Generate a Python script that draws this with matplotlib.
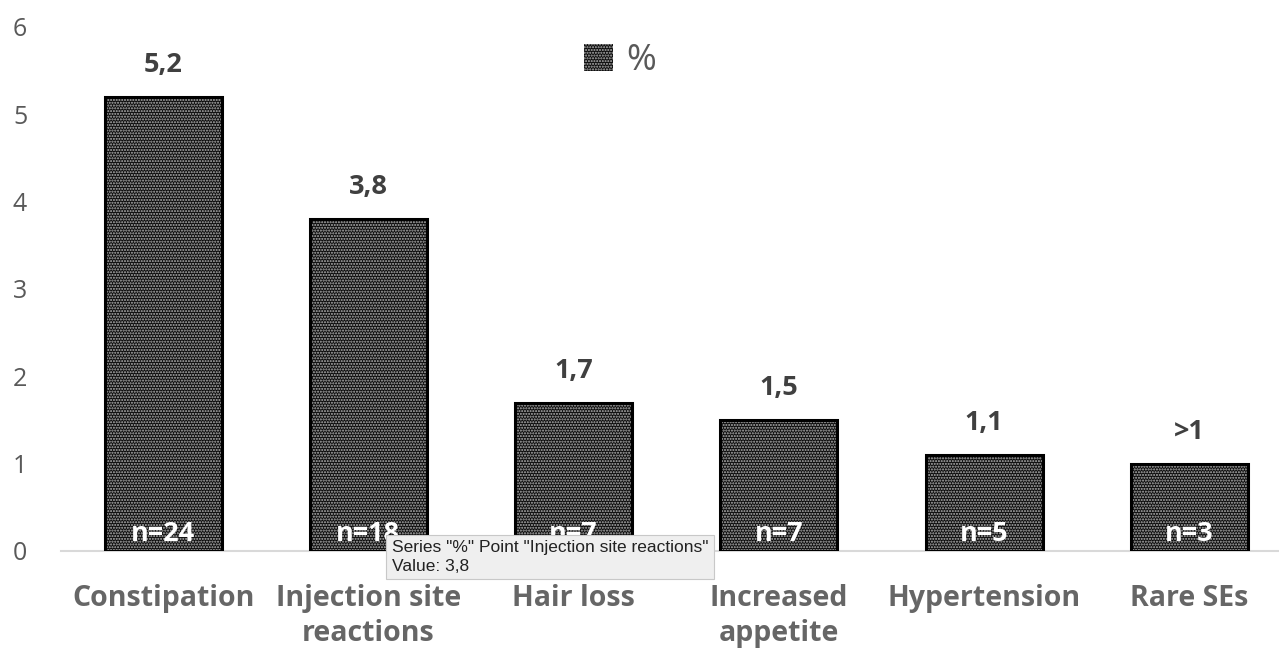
import matplotlib
matplotlib.use("Agg")
import matplotlib.pyplot as plt
from matplotlib.patches import Rectangle

categories = ["Constipation", "Injection site\nreactions", "Hair loss",
              "Increased\nappetite", "Hypertension", "Rare SEs"]
values = [5.2, 3.8, 1.7, 1.5, 1.1, 1.0]
value_labels = ["5,2", "3,8", "1,7", "1,5", "1,1", ">1"]
counts = ["n=24", "n=18", "n=7", "n=7", "n=5", "n=3"]
series_name = "%"

plt.rcParams["font.family"] = ["Open Sans", "DejaVu Sans"]
plt.rcParams["hatch.linewidth"] = 1.0

fig = plt.figure(figsize=(12.79, 6.51), dpi=100)
ax = fig.add_axes([60.5 / 1279, 100 / 651, (1292 - 60.5) / 1279, (551 - 27) / 651])

x = list(range(len(categories)))
width = 0.57

# dotted dark fill: dark face with light dotted hatch, then a black outline on top
ax.bar(x, values, width=width, color="#0d0d0d", edgecolor="#b5b5b5",
       hatch="......", linewidth=0, zorder=2)
ax.bar(x, values, width=width, fill=False, edgecolor="black",
       linewidth=2.2, zorder=3)

ax.set_xlim(-0.5, len(categories) - 0.5)
ax.set_ylim(0, 6)
ax.set_yticks(range(0, 7))

for s in ["top", "right", "left"]:
    ax.spines[s].set_visible(False)
ax.spines["bottom"].set_color("#d9d9d9")
ax.spines["bottom"].set_linewidth(1.5)

ax.tick_params(axis="y", length=0, pad=24, labelsize=18, labelcolor="#595959")
ax.tick_params(axis="x", length=0, pad=24)
ax.set_xticks(x)
ax.set_xticklabels(categories, fontsize=20.5, fontweight="bold", color="#666666",
                   linespacing=1.25)

for xi, v, lab, n in zip(x, values, value_labels, counts):
    ax.annotate(lab, (xi, v), xytext=(0, 18), textcoords="offset points",
                ha="center", va="baseline", fontsize=19.5, fontweight="bold",
                color="#404040")
    ax.text(xi, 0.05, n, ha="center", va="bottom", fontsize=19.5,
            fontweight="bold", color="white", zorder=4)

# legend at the top centre
leg_handle = Rectangle((0, 0), 1, 1, facecolor="#0d0d0d", edgecolor="#b5b5b5",
                       hatch="......", linewidth=0)
leg = fig.legend([leg_handle], [series_name], loc="center",
                 bbox_to_anchor=(620 / 1279, 1 - 61 / 651), frameon=False,
                 fontsize=26, handlelength=0.8, handleheight=0.8,
                 handletextpad=0.35)
for t in leg.get_texts():
    t.set_color("#595959")

# hover tooltip box
fig.text(392 / 1279, 1 - 557 / 651,
         'Series "%" Point "Injection site reactions"\nValue: 3,8',
         fontsize=12.5, color="#222222", ha="left", va="center",
         family=["Liberation Sans", "DejaVu Sans"], linespacing=1.3,
         bbox=dict(boxstyle="square,pad=0.32", facecolor="#efefef",
                   edgecolor="#c8c8c8", linewidth=0.8), zorder=10)

fig.savefig("out.png", dpi=100)
